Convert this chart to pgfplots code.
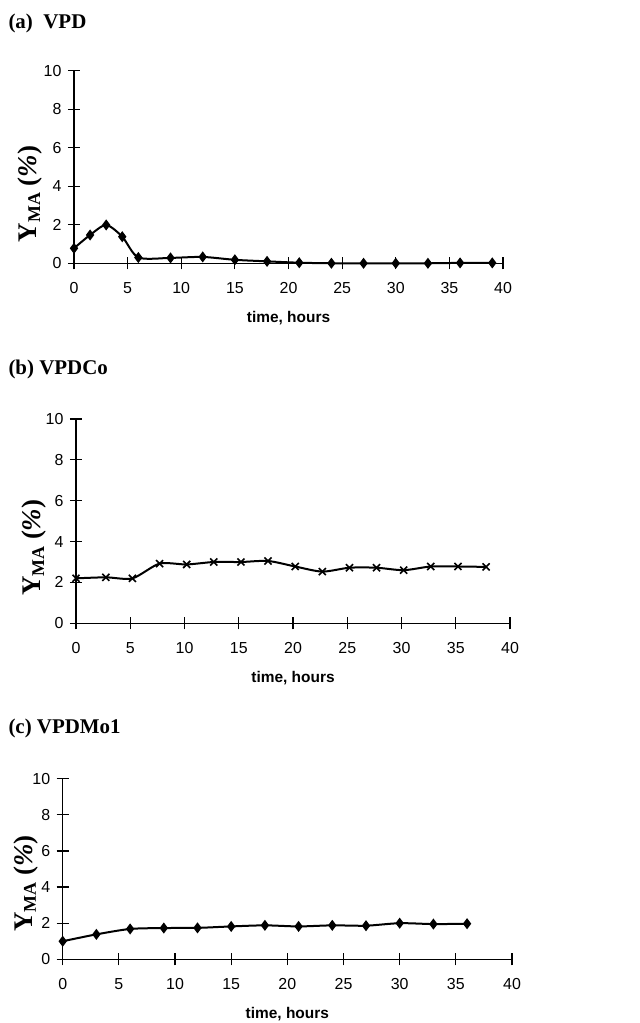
\documentclass[border=0pt]{standalone}
\usepackage{fontspec}
\setmainfont{Liberation Serif}
\setsansfont{Liberation Sans}
\usepackage{pgfplots}
\pgfplotsset{compat=1.18}

\pgfplotsset{
  panel/.style={
    scale only axis,
    xmin=0, xmax=40, ymin=0, ymax=10,
    xtick={0,5,...,40}, ytick={0,2,...,10},
    axis x line*=bottom, axis y line*=left,
    axis line style={line width=1.3bp, -},
    tick style={line width=1.2bp, black},
    tick align=center,
    major tick length=12bp,
    clip=false,
    /pgf/number format/assume math mode=true,
    ticklabel style={font=\fontsize{16}{16}\sffamily},
    xticklabel style={anchor=north, text height=11bp, text depth=0bp},
    xticklabel shift=10bp,
    yticklabel shift=3bp,
    xlabel={time, hours},
    xlabel style={font=\fontsize{15.5}{15.5}\sffamily\bfseries, at={(axis description cs:0.5,0)}, anchor=center, yshift=-55bp},
    ylabel={\fontsize{27}{27}\selectfont Y\textsubscript{\fontsize{18}{18}\selectfont MA}\hspace{6bp}(\textit{\%})},
    ylabel style={font=\bfseries\rmfamily, anchor=center},
  },
  ser/.style={black, line width=2bp, smooth, tension=0.45, mark options={solid, fill=black, line width=1.3bp}},
}

\begin{document}
\begin{tikzpicture}[x=1bp,y=1bp]
\useasboundingbox (0,0) rectangle (640,1023);

% (a) VPD
\node[anchor=west, font=\fontsize{21}{21}\selectfont\bfseries] at (5,1000) {(a)\ \ VPD};
\begin{axis}[panel, at={(74bp,759.7bp)}, width=429bp, height=192.6bp,
  ylabel style={at={(axis description cs:0,0.36)}, yshift=44bp}]
\addplot[ser, mark=diamond*, mark size=4.5bp] coordinates {
(0,0.78) (1.5,1.47) (3,1.99) (4.5,1.38) (6,0.30) (9,0.28) (12,0.33) (15,0.18)
(18,0.10) (21,0.03) (24,0.0) (27,0.0) (30,0.0) (33,0.0) (36,0.02) (39,0.02)};
\end{axis}

% (b) VPDCo
\node[anchor=west, font=\fontsize{21}{21}\selectfont\bfseries] at (5,654) {(b) VPDCo};
\begin{axis}[panel, at={(76bp,399.7bp)}, width=434bp, height=204.3bp,
  ylabel style={at={(axis description cs:0,0.37)}, yshift=42bp}]
\addplot[ser, mark=x, mark size=5bp, mark options={line width=1.6bp}] coordinates {
(0,2.20) (2.75,2.25) (5.2,2.20) (7.7,2.92) (10.2,2.88) (12.7,3.00) (15.2,3.00)
(17.7,3.05) (20.2,2.78) (22.7,2.53) (25.2,2.72) (27.7,2.72) (30.2,2.60)
(32.7,2.78) (35.2,2.78) (37.8,2.76)};
\end{axis}

% (c) VPDMo1
\node[anchor=west, font=\fontsize{21}{21}\selectfont\bfseries] at (5,295) {(c) VPDMo1};
\begin{axis}[panel, at={(62.7bp,63.7bp)}, width=449.3bp, height=180.6bp,
  ylabel style={at={(axis description cs:0,0.42)}, yshift=37bp}]
\addplot[ser, mark=diamond*, mark size=4.5bp] coordinates {
(0,1.00) (3,1.38) (6,1.68) (9,1.73) (12,1.74) (15,1.82) (18,1.88) (21,1.82)
(24,1.88) (27,1.86) (30,2.00) (33,1.95) (36,1.97)};
\end{axis}
\end{tikzpicture}
\end{document}
